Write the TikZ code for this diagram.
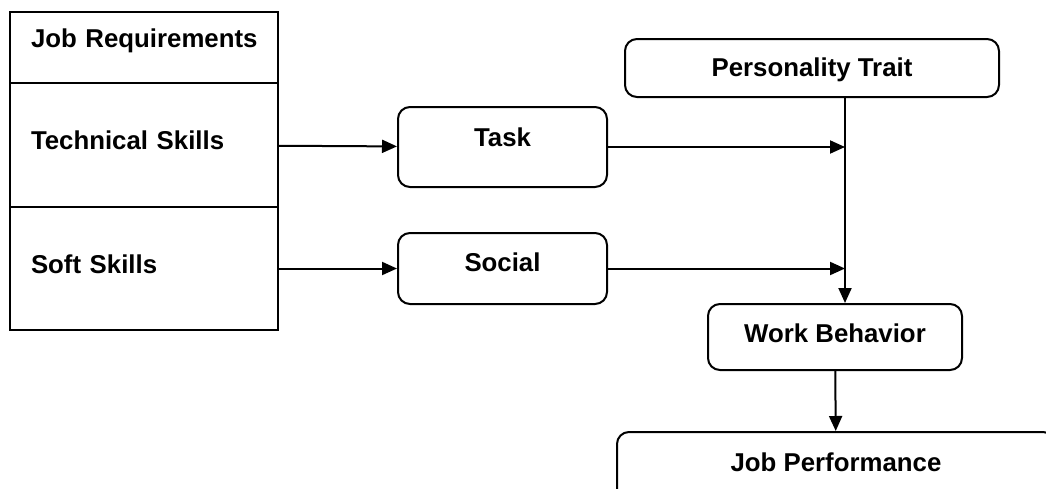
\documentclass[tikz,border=0pt]{standalone}
\usepackage{fontspec}
\setmainfont{Liberation Sans}
\usetikzlibrary{arrows.meta}
\begin{document}
\begin{tikzpicture}[x=1pt,y=1pt,line width=2pt,
  every node/.style={font=\fontsize{25.8}{31}\selectfont\bfseries,text height=19pt},
  rowbox/.style={shape=rectangle,draw,text width=226pt,inner xsep=21pt,inner ysep=0pt,align=left},
  stagebox/.style={shape=rectangle,rounded corners=12pt,draw,inner sep=0pt},
  >={Triangle[length=15pt,width=13pt]}]
\useasboundingbox (0,0) rectangle (1046,-488);
\clip (0,0) rectangle (1046,-488);
\node(req) at (144,-47.5)[rowbox,minimum height=71pt,text depth=19.6pt]{\mbox{Job Requirements}};
\node(tech) at (144,-145)[rowbox,minimum height=124pt,text depth=10.6pt]{\mbox{Technical Skills}};
\node(soft) at (144,-268.5)[rowbox,minimum height=123pt,text depth=9.6pt]{\mbox{Soft Skills}};
\node(task) at (502.5,-147)[stagebox,minimum width=209pt,minimum height=80pt,text depth=20.6pt]{Task};
\node(social) at (502.5,-268.5)[stagebox,minimum width=209pt,minimum height=71pt,text depth=13.6pt]{Social};
\node(trait) at (812,-68)[stagebox,minimum width=374pt,minimum height=58pt,text depth=2.6pt]{Personality Trait};
\node(behav) at (835,-337)[stagebox,minimum width=254pt,minimum height=66pt,text depth=8.6pt]{Work Behavior};
\node(perf) at (836,-467)[stagebox,minimum width=438pt,minimum height=70pt,text depth=10.6pt]{Job Performance};
\coordinate(trunk) at (845,-97);
\path [->]
  (tech)   edge                 (task)
  (soft)   edge                 (social)
  (task)   edge                 (task -| trunk)
  (social) edge                 (social -| trunk)
  (trunk)  edge                 (trunk |- behav.north)
  (behav)  edge                 (perf);
\end{tikzpicture}
\end{document}
